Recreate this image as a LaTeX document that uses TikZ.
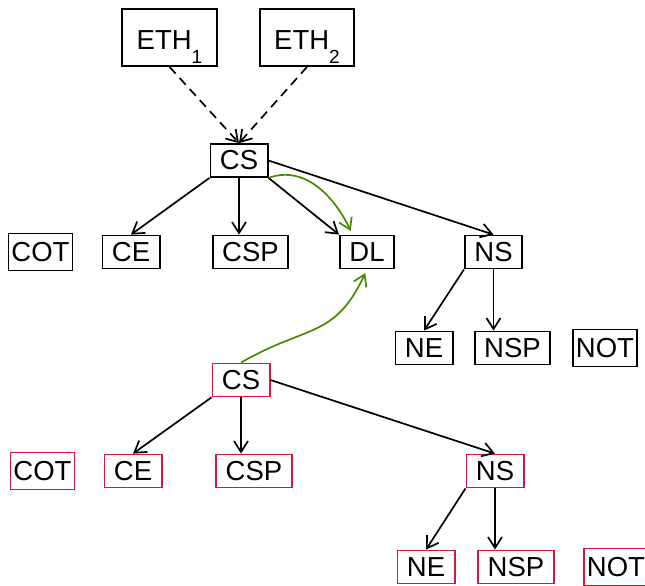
\documentclass[tikz,border=0pt]{standalone}
\usepackage{fontspec}
\setmainfont{Liberation Sans}
\usetikzlibrary{arrows.meta, positioning}
\definecolor{crimson}{RGB}{220,20,60}
\definecolor{leafgreen}{RGB}{69,139,0}

\begin{document}
\begin{tikzpicture}[x=1pt,y=-1pt,on grid,>={Straight Barb[length=11pt,width=14pt]},line width=1.7pt,
		box/.style={draw, line width=1.8pt, inner xsep=9.5pt, inner ysep=0.5pt, text height=25pt, text depth=7pt, font=\fontsize{27.5}{30}\selectfont},
		tight/.style={box, inner xsep=3pt, inner ysep=2.5pt},
		second/.style={draw=crimson},
		eth/.style={box, inner xsep=14.5pt, inner ysep=3pt, text height=37pt, text depth=14pt},
		move/.style={leafgreen, shorten >=4pt}]
		
		\useasboundingbox (0,0) rectangle (645,586);
		
		\node (cs) 
			[box] at (239,160.5) {CS};
			\node (eth1) 
				[eth, above left = 123pt and 69.5pt of cs] {ETH\raisebox{-14pt}{\fontsize{19}{20}\selectfont 1}};
			\node (eth2) 
				[eth, right = 137.5pt of eth1] {ETH\raisebox{-14pt}{\fontsize{19}{20}\selectfont 2}};
			
			\node (ce) 
				[box, below left = 91.5pt and 108pt of cs] {CE};
			\node (cot) 
				[tight, left = 90.5pt of ce] {COT};
			\node (csp) 
				[box, right = 119.5pt of ce] {CSP};
			\node (dl) 
				[box, right = 116.5pt of csp] {DL};
			\node (ns) 
				[box, right = 126.5pt of dl] {NS};
			\node (ne) 
				[box, below left = 96pt and 69.5pt of ns] {NE};
			\node (nsp) 
				[box, right = 88.5pt of ne] {NSP};
			\node (not) 
				[tight, right = 92.5pt of nsp] {NOT};
			
			
		\node (rcs) 
			[box, second, below right = 219.5pt and 2pt of cs] {CS};
			\node (rce) 
				[box, second, below left = 91pt and 108pt of rcs] {CE};
			\node (rcot) 
				[tight, second, left = 90.5pt of rce] {COT};
			\node (rcsp) 
				[box, second, right = 121pt of rce] {CSP};
			\node (rns) 
				[box, second, right = 241pt of rcsp] {NS};
			\node (rne) 
				[box, second, below left = 96pt and 69pt of rns] {NE};
			\node (rnsp) 
				[box, second, right = 90pt of rne] {NSP};
			\node (rnot) 
				[tight, second, right = 100pt of rnsp] {NOT};
		
		
		\path [->]
		(eth1.south) edge [dash pattern=on 9pt off 6pt] (cs.north)
		(eth2.south) edge [dash pattern=on 9pt off 6pt] (cs.north)
		
		(cs.south west) edge (ce.north)
		(cs.south) edge (cs.south |- csp.north)
		(cs.south east) edge (dl.north west)
		(cs.east) edge (ns.north)
		(ns.south west) edge (ne.north)
		(ns.south) edge (ns.south |- nsp.north)
		
		(rcs.south west) edge (rce.north)
		(rcs.south) edge (rcs.south |- rcsp.north)
		(rcs.east) edge (rns.north)
		(rns.south west) edge (rne.north)
		(rns.south) edge (rns.south |- rnsp.north)
		
		(cs.south east) edge [move, out=20, in=115] (dl.130)
		(rcs.north) edge [move, out=30, in=-115, looseness=1.25] (dl.south)
		;
	\end{tikzpicture}
\end{document}
